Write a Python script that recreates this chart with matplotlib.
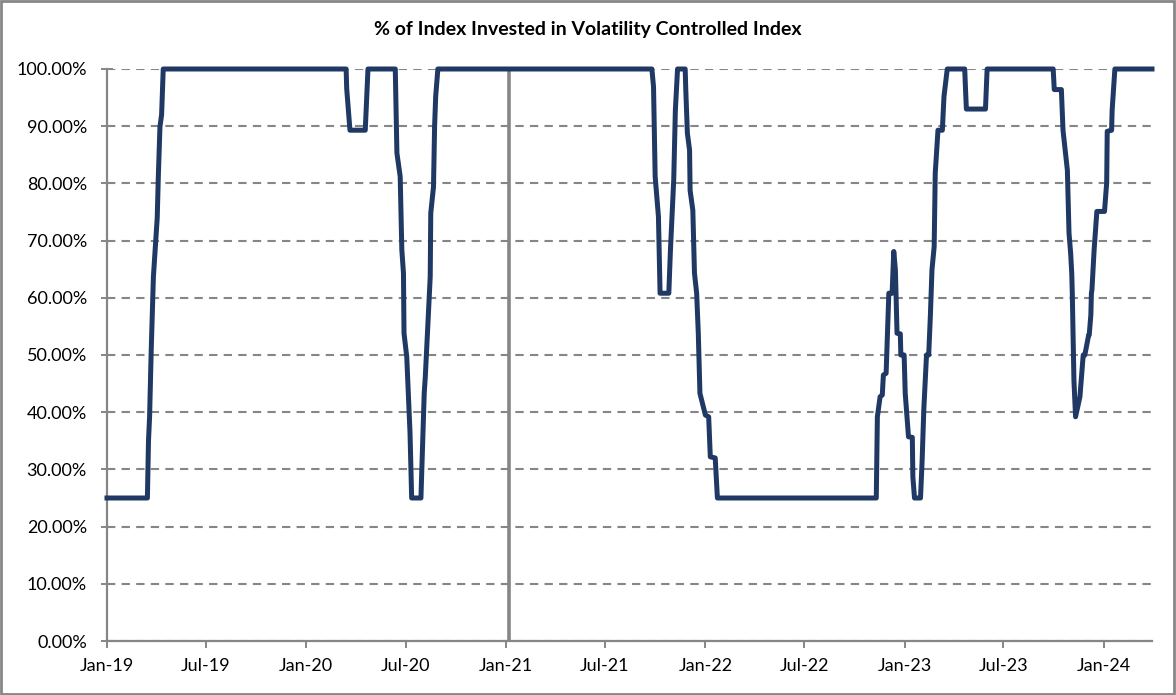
import matplotlib
matplotlib.use("Agg")
import matplotlib.pyplot as plt
import matplotlib.dates as mdates
from matplotlib.patches import Rectangle
from matplotlib.ticker import FuncFormatter
import pandas as pd

plt.rcParams['font.family'] = ['Lato', 'DejaVu Sans']

title = '% of Index Invested in Volatility Controlled Index'

# allocation readings (date, % invested)
dates = [
    "2019-01-01", "2019-03-16", "2019-03-18", "2019-03-20", "2019-03-23", "2019-03-27",
    "2019-04-03", "2019-04-05", "2019-04-08", "2019-04-11", "2019-04-14",
    "2020-03-14", "2020-03-15", "2020-03-21", "2020-04-18", "2020-04-23",
    "2020-06-12", "2020-06-15", "2020-06-21", "2020-06-24", "2020-06-27", "2020-06-28",
    "2020-07-03", "2020-07-09", "2020-07-12", "2020-07-29", "2020-07-30", "2020-08-04",
    "2020-08-06", "2020-08-15", "2020-08-16", "2020-08-21", "2020-08-23", "2020-08-25",
    "2020-08-29",
    "2021-09-25", "2021-09-28", "2021-10-01", "2021-10-07", "2021-10-10", "2021-10-26",
    "2021-10-29", "2021-11-04", "2021-11-07", "2021-11-11", "2021-11-25", "2021-11-26",
    "2021-11-29", "2021-12-03", "2021-12-04", "2021-12-09", "2021-12-12", "2021-12-16",
    "2021-12-19", "2021-12-22", "2022-01-01", "2022-01-07", "2022-01-10", "2022-01-19",
    "2022-01-21", "2022-01-23",
    "2022-11-10", "2022-11-11", "2022-11-12", "2022-11-17", "2022-11-21", "2022-11-23",
    "2022-11-28", "2022-12-03", "2022-12-09", "2022-12-12", "2022-12-15", "2022-12-18",
    "2022-12-24", "2022-12-25", "2022-12-31", "2023-01-02", "2023-01-08", "2023-01-15",
    "2023-01-16", "2023-01-19", "2023-01-30", "2023-02-02", "2023-02-05", "2023-02-10",
    "2023-02-14", "2023-02-17", "2023-02-20", "2023-02-24", "2023-02-26", "2023-03-03",
    "2023-03-11", "2023-03-14", "2023-03-20", "2023-04-21", "2023-04-22", "2023-04-24",
    "2023-05-29", "2023-06-01",
    "2023-09-30", "2023-10-02", "2023-10-15", "2023-10-18", "2023-10-26", "2023-10-29",
    "2023-11-01", "2023-11-03", "2023-11-04", "2023-11-07", "2023-11-10", "2023-11-18",
    "2023-11-24", "2023-11-27", "2023-12-04", "2023-12-05", "2023-12-08", "2023-12-09",
    "2023-12-10", "2023-12-14", "2023-12-19", "2024-01-02", "2024-01-06", "2024-01-07",
    "2024-01-15", "2024-01-16", "2024-01-21", "2024-03-29",
]
invested = [
    25.0, 25.0, 35.0, 39.2, 50.9, 63.7,
    74.0, 81.2, 89.9, 92.0, 100.0,
    100.0, 96.6, 89.3, 89.3, 100.0,
    100.0, 85.3, 81.2, 68.4, 64.3, 53.8,
    49.7, 36.4, 25.0, 25.0, 28.1, 43.3,
    46.2, 63.7, 74.8, 79.4, 89.9, 95.2,
    100.0,
    100.0, 96.9, 81.2, 74.2, 60.8, 60.8,
    68.4, 80.6, 92.8, 100.0, 100.0, 96.6,
    88.8, 85.8, 78.8, 75.3, 64.3, 60.8,
    53.8, 43.3, 39.5, 39.2, 32.2, 32.0,
    28.5, 25.0,
    25.0, 32.2, 39.2, 42.7, 43.0, 46.5,
    46.8, 60.8, 60.8, 68.1, 64.9, 53.8,
    53.7, 50.0, 50.0, 43.3, 35.7, 35.6,
    28.7, 25.0, 25.0, 31.6, 40.4, 50.0,
    50.0, 56.7, 64.9, 68.9, 81.8, 89.3,
    89.3, 95.2, 100.0, 100.0, 97.5, 93.0,
    93.0, 100.0,
    100.0, 96.4, 96.4, 89.3, 82.3, 71.3,
    67.8, 64.3, 60.8, 45.6, 39.2, 42.7,
    50.0, 50.0, 53.5, 53.5, 57.0, 60.8,
    61.4, 68.4, 75.1, 75.1, 80.1, 89.1,
    89.3, 92.8, 100.0, 100.0,
]
launch_date = "2021-01-06"

x = pd.to_datetime(dates)
y = [v / 100 for v in invested]
launch = pd.Timestamp(launch_date)

fig = plt.figure(figsize=(11.76, 6.95), dpi=100)
ax = fig.add_axes([107 / 1176, 1 - 641 / 695, (1152 - 107) / 1176, (641 - 69) / 695])

grey = '#868686'
ax.set_ylim(0, 1)
ax.set_xlim(x[0], x[-1])
ax.set_yticks([i / 10 for i in range(11)])
ax.yaxis.set_major_formatter(FuncFormatter(lambda v, p: '%.2f%%' % (v * 100)))
ax.xaxis.set_major_locator(mdates.MonthLocator(bymonth=[1, 7]))
ax.xaxis.set_major_formatter(mdates.DateFormatter('%b-%y'))

ax.grid(axis='y', color=grey, linestyle=(0, (4, 3)), linewidth=1.5)
ax.set_axisbelow(True)
for s in ['top', 'right']:
    ax.spines[s].set_visible(False)
for s in ['left', 'bottom']:
    ax.spines[s].set_color(grey)
    ax.spines[s].set_linewidth(1.6)
ax.tick_params(axis='both', colors=grey, labelcolor='black', labelsize=13, width=1.4)
ax.tick_params(axis='y', direction='inout', length=9, pad=10)
ax.tick_params(axis='x', direction='out', length=5, pad=7)

ax.axvline(launch, color=grey, linewidth=2.6, zorder=2)
ax.plot(x, y, color='#203864', linewidth=3.6, clip_on=False, zorder=3)

fig.text(0.5, 1 - 30 / 695, title, ha='center', va='center', fontsize=14, fontweight='bold')
fig.patches.append(Rectangle((0.001, 0.002), 0.997, 0.996, transform=fig.transFigure,
                             fill=False, edgecolor=grey, linewidth=2))

fig.savefig('out.png', dpi=100)
